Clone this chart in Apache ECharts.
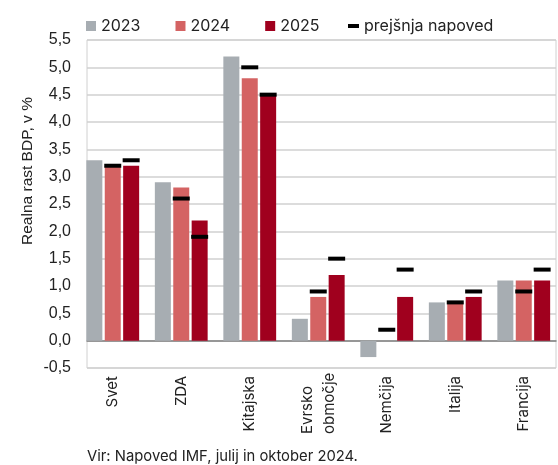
<!DOCTYPE html>
<html>
<head>
<meta charset="utf-8">
<script src="https://cdn.jsdelivr.net/npm/echarts@6/dist/echarts.min.js"></script>
<style>
html,body{margin:0;padding:0;background:#fff;}
#c{width:558px;height:465px;}
</style>
</head>
<body>
<div id="c"></div>
<script>
const categories = ['Svet', 'ZDA', 'Kitajska', 'Evrsko\nobmočje', 'Nemčija', 'Italija', 'Francija'];
const values2023 = [3.3, 2.9, 5.2, 0.4, -0.3, 0.7, 1.1];
const values2024 = [3.2, 2.8, 4.8, 0.8, 0.0, 0.7, 1.1];
const values2025 = [3.2, 2.2, 4.5, 1.2, 0.8, 0.8, 1.1];
const prev2024 = [3.2, 2.6, 5.0, 0.9, 0.2, 0.7, 0.9];
const prev2025 = [3.3, 1.9, 4.5, 1.5, 1.3, 0.9, 1.3];
const yTicks = [-0.5, 5.5, 0.5]; // min, max, step

const chart = echarts.init(document.getElementById('c'), null, {renderer: 'canvas'});
const fontMain = 'Inter';
const fontAxis = '"Liberation Sans", Arial';

const option = {
  animation: false,
  backgroundColor: '#fff',
  textStyle: {fontFamily: fontMain},
  legend: [
    {
      data: ['2023', '2024', '2025'],
      left: 81, top: 13,
      itemWidth: 10, itemHeight: 10, itemGap: 35, itemTextGap: 5,
      icon: 'rect',
      textStyle: {fontFamily: fontMain, fontSize: 16, color: '#222'}
    },
    {
      data: ['prejšnja napoved'],
      left: 343, top: 13,
      itemWidth: 11, itemHeight: 4, itemTextGap: 5,
      icon: 'rect',
      textStyle: {fontFamily: fontMain, fontSize: 16, color: '#222'}
    }
  ],
  grid: [
    {left: 87, right: 2, top: 40, bottom: 97, show: true, borderColor: '#d0d0d0', borderWidth: 1, backgroundColor: 'transparent'},
    {left: 78.5, right: -10.5, top: 40, bottom: 97}
  ],
  xAxis: [
    {
      gridIndex: 0, type: 'category', data: categories,
      axisLine: {show: true, onZero: true, lineStyle: {color: '#808080', width: 1.5}},
      axisTick: {show: false}, axisLabel: {show: false}, splitLine: {show: false}
    },
    {
      gridIndex: 1, type: 'category', data: categories,
      axisLine: {show: false, onZero: false}, axisTick: {show: false},
      axisLabel: {
        rotate: 90, margin: 8, interval: 0,
        fontFamily: fontMain, fontSize: 15, color: '#222', lineHeight: 22,
        formatter: v => v.indexOf('\n') < 0 ? v : v.split('\n').map(s => '{a|' + s + '}').join('\n'),
        rich: {a: {fontFamily: fontMain, fontSize: 15, color: '#222', lineHeight: 22, align: 'left', width: 58}}
      }
    }
  ],
  yAxis: [
    {
      gridIndex: 0, type: 'value', min: yTicks[0], max: yTicks[1], interval: yTicks[2],
      axisLine: {show: false}, axisTick: {show: false},
      splitLine: {show: true, lineStyle: {color: '#d0d0d0', width: 1.5}},
      axisLabel: {
        margin: 16, fontFamily: fontAxis, fontSize: 16, color: '#222',
        formatter: v => v.toFixed(1).replace('.', ',')
      }
    },
    {
      gridIndex: 1, type: 'value', min: yTicks[0], max: yTicks[1], interval: yTicks[2], show: false
    }
  ],
  series: [
    {name: '2023', type: 'bar', xAxisIndex: 1, yAxisIndex: 1, data: values2023, barWidth: 16, barGap: '15%', itemStyle: {color: '#A7ADB2'}},
    {name: '2024', type: 'bar', xAxisIndex: 1, yAxisIndex: 1, data: values2024, barWidth: 16, barGap: '15%', itemStyle: {color: '#D46363'}},
    {name: '2025', type: 'bar', xAxisIndex: 1, yAxisIndex: 1, data: values2025, barWidth: 16, barGap: '15%', itemStyle: {color: '#A0001E'}},
    {name: 'prejšnja napoved', type: 'scatter', xAxisIndex: 1, yAxisIndex: 1, data: prev2024, symbol: 'rect', symbolSize: [17, 4], symbolOffset: [0, 0], itemStyle: {color: '#000', opacity: 1}, z: 5},
    {name: 'prejšnja napoved', type: 'scatter', xAxisIndex: 1, yAxisIndex: 1, data: prev2025, symbol: 'rect', symbolSize: [17, 4], symbolOffset: [18.4, 0], itemStyle: {color: '#000', opacity: 1}, z: 5}
  ],
  graphic: [
    {
      type: 'text', x: 28, y: 171, rotation: Math.PI / 2,
      style: {text: 'Realna rast BDP, v %', font: '15.5px "Liberation Sans", Arial', fill: '#222', align: 'center', verticalAlign: 'middle'}
    },
    {
      type: 'text', left: 87, top: 449,
      style: {text: 'Vir: Napoved IMF, julij in oktober 2024.', font: '14.8px Inter', fill: '#222'}
    }
  ]
};
chart.setOption(option);
</script>
</body>
</html>
